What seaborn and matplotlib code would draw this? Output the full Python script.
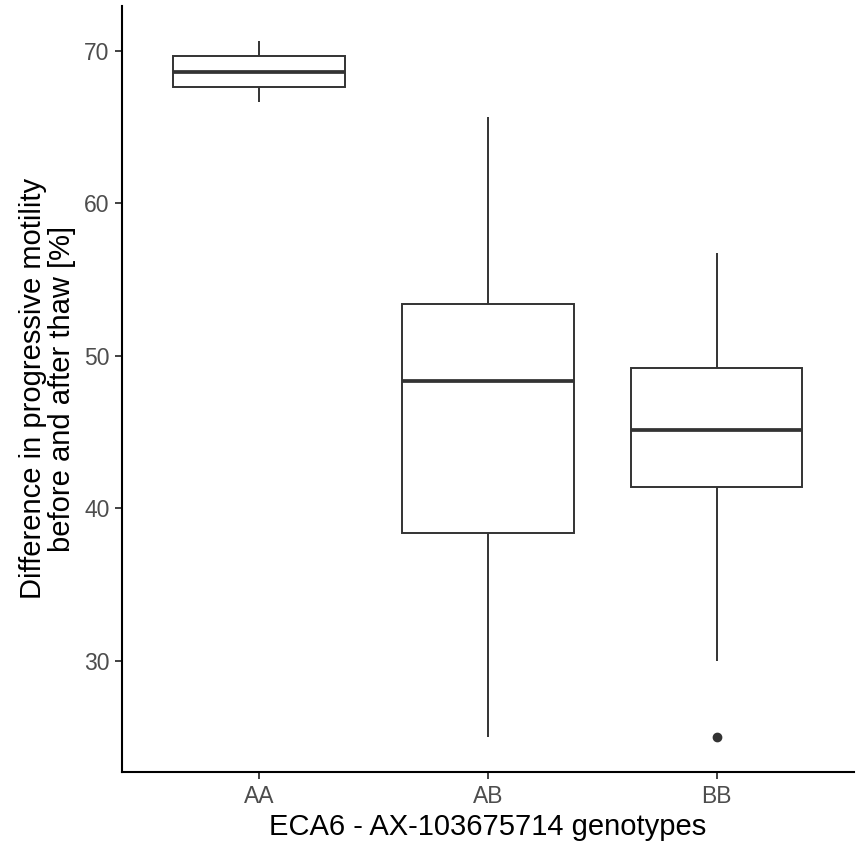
import pandas as pd
import matplotlib.pyplot as plt
import seaborn as sns

# values (quartiles, whisker ends, outlier)
aa_vals = [66.62, 67.62, 68.63, 69.63, 70.65]
ab_vals = [25.0, 38.37, 48.36, 53.42, 65.68]
bb_vals = [25.0, 30.0, 41.38, 41.38, 45.11, 49.19, 49.19, 49.19, 56.71]
genotypes = ["AA", "AB", "BB"]

data = pd.DataFrame({
    "genotype": ["AA"] * len(aa_vals) + ["AB"] * len(ab_vals) + ["BB"] * len(bb_vals),
    "value": aa_vals + ab_vals + bb_vals,
})

sns.set_style("ticks")
plt.rcParams['font.family'] = ['Liberation Sans', 'DejaVu Sans']

fig = plt.figure(figsize=(8.59, 8.42), dpi=100)
ax = fig.add_axes([0.142, 0.0831, 0.852, 0.910])

line_col = "#333333"
sns.boxplot(data=data, x="genotype", y="value", order=genotypes, ax=ax,
            color="white", linecolor=line_col, linewidth=1.4, width=0.75,
            showcaps=False, whis=1.5,
            medianprops={"linewidth": 2.7, "color": line_col},
            flierprops={"marker": "o", "markersize": 6,
                        "markerfacecolor": line_col, "markeredgecolor": line_col})

ax.set_xlim(-0.6, 2.6)
ax.set_ylim(22.72, 72.94)
ax.set_yticks([30, 40, 50, 60, 70])

ax.set_xlabel("ECA6 - AX-103675714 genotypes", fontsize=21, color="black", labelpad=4)
ax.set_ylabel("Difference in progressive motility\nbefore and after thaw [%]",
              fontsize=21, color="black", labelpad=6, linespacing=1.03)
ax.tick_params(axis="both", labelsize=16.5, labelcolor="#4D4D4D", color=line_col,
               length=5, width=1.3, pad=4)

for side in ["top", "right"]:
    ax.spines[side].set_visible(False)
for side in ["left", "bottom"]:
    ax.spines[side].set_color("black")
    ax.spines[side].set_linewidth(1.5)

plt.savefig("out.png", dpi=100)
